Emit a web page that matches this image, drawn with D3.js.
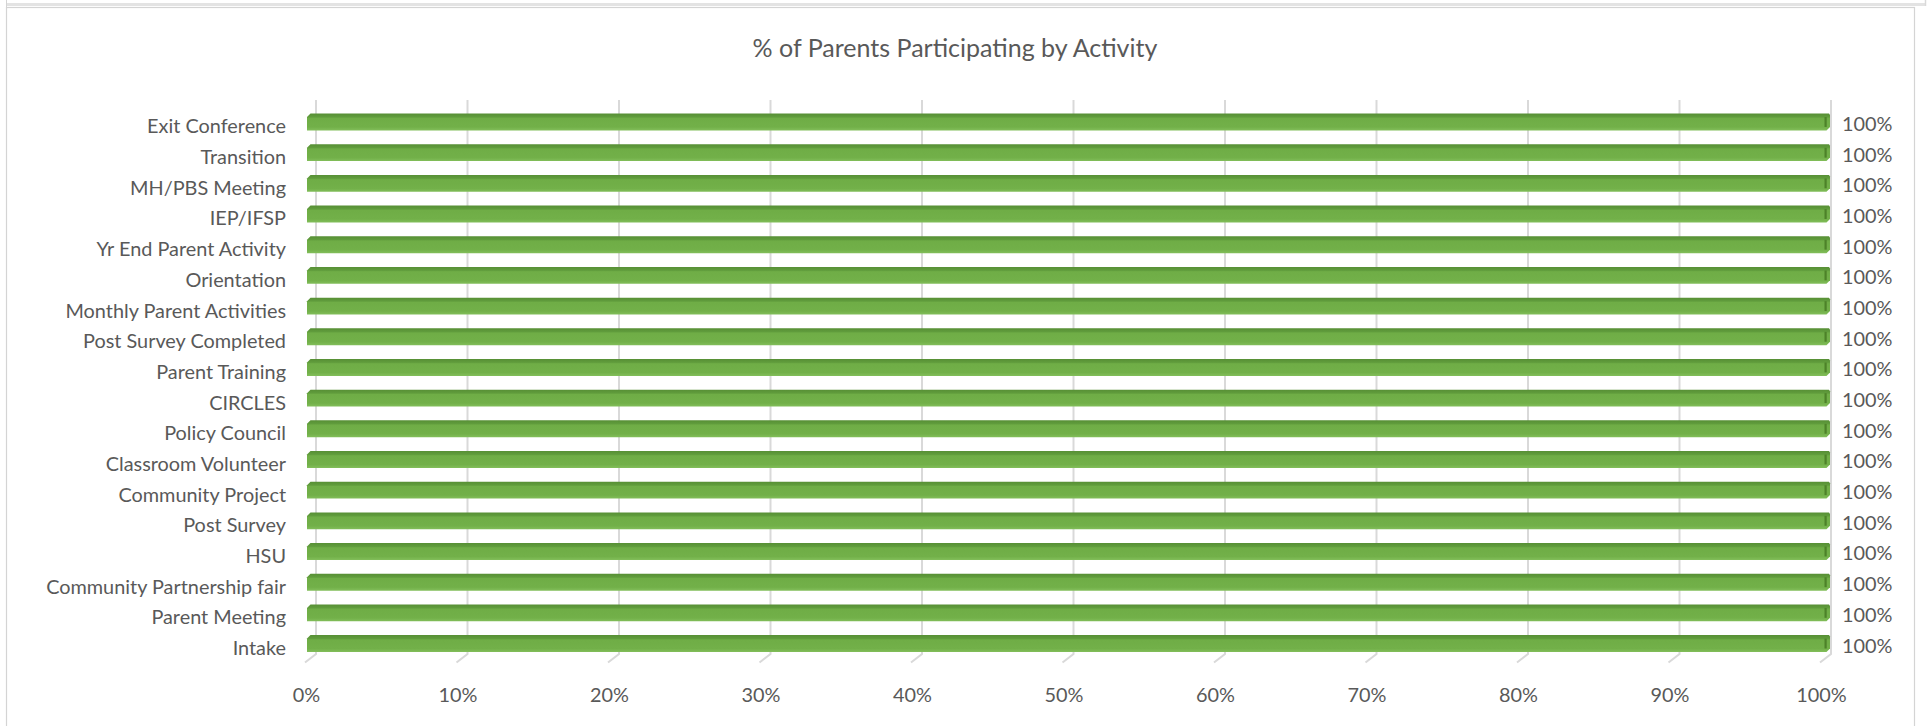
<!DOCTYPE html>
<html>
<head>
<meta charset="utf-8">
<script src="https://cdn.jsdelivr.net/npm/d3@7"></script>
<style>
  html, body { margin: 0; padding: 0; background: #ffffff; }
  svg { display: block; }
</style>
</head>
<body>
<svg id="chart" width="1929" height="726"></svg>
<script>
const titleText = "% of Parents Participating by Activity";
const categories = [
  "Exit Conference", "Transition", "MH/PBS Meeting", "IEP/IFSP",
  "Yr End Parent Activity", "Orientation", "Monthly Parent Activities",
  "Post Survey Completed", "Parent Training", "CIRCLES", "Policy Council",
  "Classroom Volunteer", "Community Project", "Post Survey", "HSU",
  "Community Partnership fair", "Parent Meeting", "Intake"
];
const values = [1, 1, 1, 1, 1, 1, 1, 1, 1, 1, 1, 1, 1, 1, 1, 1, 1, 1];
const tickValues = [0, 0.1, 0.2, 0.3, 0.4, 0.5, 0.6, 0.7, 0.8, 0.9, 1.0];
const tickLabels = ["0%", "10%", "20%", "30%", "40%", "50%", "60%", "70%", "80%", "90%", "100%"];
const valueLabels = ["100%", "100%", "100%", "100%", "100%", "100%", "100%", "100%", "100%",
                     "100%", "100%", "100%", "100%", "100%", "100%", "100%", "100%", "100%"];

const FONT = "Lato, 'Open Sans', 'Noto Sans', sans-serif";
const TEXT_COLOR = "#595959";
const svg = d3.select("#chart");

function fitSize(text, target) {
  const t = svg.append("text").attr("font-family", FONT).attr("font-size", 100).text(text);
  const w = t.node().getComputedTextLength();
  t.remove();
  return 100 * target / w;
}
const labelSize = fitSize("Community Partnership fair", 240);
const titleSize = fitSize(titleText, 405);

// outer decorations (neighbouring frame and chart frame)
svg.append("line").attr("x1", 6).attr("x2", 1925.5).attr("y1", 4.5).attr("y2", 4.5)
  .attr("stroke", "#e3e3e3").attr("stroke-width", 3);
svg.append("line").attr("x1", 1925.5).attr("x2", 1925.5).attr("y1", 0).attr("y2", 6)
  .attr("stroke", "#d9d9d9").attr("stroke-width", 1.5);
svg.append("line").attr("x1", 6.5).attr("x2", 6.5).attr("y1", 0).attr("y2", 726)
  .attr("stroke", "#d4d4d4").attr("stroke-width", 1);
svg.append("rect").attr("x", 6.5).attr("y", 7.5).attr("width", 1908).attr("height", 730)
  .attr("fill", "none").attr("stroke", "#d4d4d4").attr("stroke-width", 1.2);

// scales
const x = d3.scaleLinear().domain([0, 1]).range([307, 1822]);
const depthX = 9;
const y = d3.scaleBand().domain(categories).range([106.66, 658.9])
  .paddingInner(0.45).paddingOuter(0.225);

// title
svg.append("text").attr("x", 955).attr("y", 57).attr("text-anchor", "middle")
  .attr("font-family", FONT).attr("font-size", titleSize).attr("fill", TEXT_COLOR)
  .text(titleText);

// gridlines on back wall + floor diagonal
const gridTop = 100, gridBottom = 654;
const grid = svg.append("g");
tickValues.forEach(v => {
  const xb = x(v) + depthX;
  grid.append("path")
    .attr("d", `M${xb},${gridTop} L${xb},${gridBottom} L${xb - 11},${gridBottom + 8.5}`)
    .attr("fill", "none").attr("stroke", "#d9d9d9").attr("stroke-width", 2);
});

// gradient for bars
const defs = svg.append("defs");
const grad = defs.append("linearGradient").attr("id", "barGrad")
  .attr("x1", 0).attr("y1", 0).attr("x2", 0).attr("y2", 1);
grad.append("stop").attr("offset", "0%").attr("stop-color", "#578f35");
grad.append("stop").attr("offset", "20%").attr("stop-color", "#609c3c");
grad.append("stop").attr("offset", "28%").attr("stop-color", "#6fad46");
grad.append("stop").attr("offset", "80%").attr("stop-color", "#72b049");
grad.append("stop").attr("offset", "100%").attr("stop-color", "#82be5a");

// bars
const bars = svg.append("g");
categories.forEach((c, i) => {
  const y0 = y(c), y1 = y(c) + y.bandwidth();
  const x0 = x(0), x1 = x(values[i]) + 8;
  const b = 3.5;
  bars.append("path")
    .attr("d", `M${x0},${y0 + b} L${x0 + b},${y0} L${x1 - 1},${y0} L${x1},${y0 + 1.5} L${x1},${y1 - b} L${x1 - b},${y1} L${x0},${y1} Z`)
    .attr("fill", "url(#barGrad)");
  bars.append("rect").attr("x", x1 - 5.5).attr("y", y0 + b).attr("width", 2.2)
    .attr("height", y1 - y0 - 2 * b).attr("fill", "#4d8229");
});

// category labels
svg.append("g").selectAll("text").data(categories).join("text")
  .attr("x", 286).attr("y", d => y(d) + y.bandwidth() / 2 + 4.5)
  .attr("dy", "0.35em").attr("text-anchor", "end")
  .attr("font-family", FONT).attr("font-size", labelSize).attr("fill", TEXT_COLOR)
  .text(d => d);

// value labels
svg.append("g").selectAll("text").data(categories).join("text")
  .attr("x", (d, i) => x(values[i]) + 20).attr("y", d => y(d) + y.bandwidth() / 2 + 2)
  .attr("dy", "0.35em").attr("text-anchor", "start")
  .attr("font-family", FONT).attr("font-size", labelSize).attr("fill", TEXT_COLOR)
  .text((d, i) => valueLabels[i]);

// x axis tick labels
const axis = d3.axisBottom(x).tickValues(tickValues)
  .tickFormat((d, i) => tickLabels[i]).tickSize(0).tickPadding(0);
const ax = svg.append("g").attr("transform", "translate(-1, 688)").call(axis);
ax.select(".domain").remove();
ax.selectAll("text").attr("font-family", FONT).attr("font-size", labelSize)
  .attr("fill", TEXT_COLOR).attr("dy", "0.71em");
</script>
</body>
</html>
